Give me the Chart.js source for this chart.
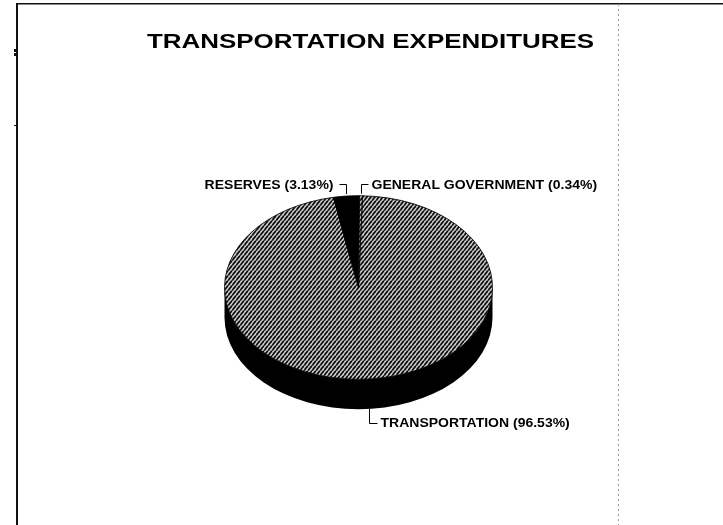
<!DOCTYPE html>
<html>
<head>
<meta charset="utf-8">
<script src="https://cdn.jsdelivr.net/npm/chart.js@4.4.1/dist/chart.umd.min.js"></script>
<style>
  html, body { margin: 0; padding: 0; background: #fff; }
  #wrap { width: 723px; height: 525px; position: relative; }
</style>
</head>
<body>
<div id="wrap"><canvas id="pie" width="723" height="525"></canvas></div>
<script>
// chart data
const chartTitle = 'TRANSPORTATION EXPENDITURES';
const categories = ['TRANSPORTATION', 'RESERVES', 'GENERAL GOVERNMENT'];
const shares = [96.53, 3.13, 0.34];

// look of the 3d pie
const SQUASH = 0.685;   // ry / rx of the top face
const DEPTH = 30;       // side height in px
const LABEL_FONT = 'bold 12.5px "Liberation Sans", Arial, sans-serif';
const LABEL_SX = 1.12;

// diagonal hatch used on the top face
function makeHatch() {
  const w = 4, h = 5;
  const c = document.createElement('canvas');
  c.width = w; c.height = h;
  const g = c.getContext('2d');
  g.fillStyle = '#fff';
  g.fillRect(0, 0, w, h);
  g.strokeStyle = '#000';
  g.lineWidth = 2;
  for (const x0 of [-w, 0, w]) {
    g.beginPath();
    g.moveTo(x0, h);
    g.lineTo(x0 + w, 0);
    g.stroke();
  }
  const ctx = document.getElementById('pie').getContext('2d');
  const p = ctx.createPattern(c, 'repeat');
  // keep stripes unsquashed when the face is scaled
  p.setTransform(new DOMMatrix().scale(1, 1 / SQUASH));
  return p;
}
const hatch = makeHatch();

function scaledText(ctx, text, x, y, align, font, sx, baseline) {
  ctx.save();
  ctx.font = font;
  ctx.textAlign = align;
  ctx.textBaseline = baseline || 'middle';
  ctx.fillStyle = '#000';
  ctx.translate(x, y);
  ctx.scale(sx, 1);
  ctx.fillText(text, 0, 0);
  ctx.restore();
}

// page frame + title
const framePlugin = {
  id: 'frame',
  beforeDraw(chart) {
    const ctx = chart.ctx;
    ctx.save();
    ctx.fillStyle = '#fff';
    ctx.fillRect(0, 0, chart.width, chart.height);
    ctx.fillStyle = '#111';
    ctx.fillRect(16, 3, chart.width - 16, 1.5);
    ctx.fillRect(16, 3, 2, chart.height);
    ctx.fillRect(14, 49, 2, 3);
    ctx.fillRect(14, 53, 2, 3);
    ctx.fillRect(14, 125, 3, 1);
    ctx.strokeStyle = '#9a9a9a';
    ctx.lineWidth = 1;
    ctx.setLineDash([2, 3]);
    ctx.beginPath();
    ctx.moveTo(618.5, 4);
    ctx.lineTo(618.5, chart.height);
    ctx.stroke();
    ctx.restore();

    // title stretched to the reference width
    ctx.save();
    const tf = 'bold 21px "Liberation Sans", Arial, sans-serif';
    ctx.font = tf;
    const sx = 447 / ctx.measureText(chartTitle).width;
    ctx.restore();
    scaledText(ctx, chartTitle, 147, 48, 'left', tf, sx, 'alphabetic');
  }
};

// side of the pie and squash of the top face
const pie3d = {
  id: 'pie3d',
  beforeDatasetsDraw(chart) {
    const ctx = chart.ctx;
    const arcs = chart.getDatasetMeta(0).data;
    const a0 = arcs[0];
    const cx = a0.x, cy = a0.y, r = a0.outerRadius, ry = r * SQUASH;
    ctx.save();
    ctx.fillStyle = '#000';
    arcs.forEach(arc => {
      // front half only (0..PI), with wrap
      for (const shift of [0, 2 * Math.PI, -2 * Math.PI]) {
        const s = Math.max(arc.startAngle + shift, 0);
        const e = Math.min(arc.endAngle + shift, Math.PI);
        if (e <= s) continue;
        ctx.beginPath();
        ctx.ellipse(cx, cy, r, ry, 0, s, e);
        ctx.ellipse(cx, cy + DEPTH, r, ry, 0, e, s, true);
        ctx.closePath();
        ctx.fill();
      }
    });
    ctx.restore();
    ctx.save();
    ctx.translate(cx, cy);
    ctx.scale(1, SQUASH);
    ctx.translate(-cx, -cy);
  },
  afterDatasetsDraw(chart) {
    chart.ctx.restore();
  },
  afterDraw(chart) {
    const ctx = chart.ctx;
    const arcs = chart.getDatasetMeta(0).data;
    ctx.save();
    ctx.strokeStyle = '#000';
    ctx.lineWidth = 1;
    arcs.forEach((arc, i) => {
      const mid = (arc.startAngle + arc.endAngle) / 2;
      const ax = Math.round(arc.x + arc.outerRadius * Math.cos(mid)) + 0.5;
      const ay = arc.y + arc.outerRadius * SQUASH * Math.sin(mid);
      const text = categories[i] + ' (' + shares[i].toFixed(2) + '%)';
      const front = Math.sin(mid) > 0;
      const left = Math.cos(mid) < 0 && !front;
      ctx.beginPath();
      if (front) {
        const y0 = ay + DEPTH, y1 = Math.round(y0 + 14) + 0.5;
        ctx.moveTo(ax, y0);
        ctx.lineTo(ax, y1);
        ctx.lineTo(ax + 8, y1);
        ctx.stroke();
        scaledText(ctx, text, ax + 11, y1 + 0.5, 'left', LABEL_FONT, LABEL_SX);
      } else {
        const y0 = ay - 2, y1 = Math.round(y0 - 10) + 0.5;
        const dx = left ? -7 : 7;
        ctx.moveTo(ax, y0);
        ctx.lineTo(ax, y1);
        ctx.lineTo(ax + dx, y1);
        ctx.stroke();
        scaledText(ctx, text, ax + dx + (left ? -6 : 3), y1 + 1.5,
          left ? 'right' : 'left', LABEL_FONT, LABEL_SX);
      }
    });
    ctx.restore();
  }
};

new Chart(document.getElementById('pie'), {
  type: 'pie',
  data: {
    labels: categories,
    datasets: [{
      data: shares,
      backgroundColor: [hatch, '#000', hatch],
      borderColor: '#000',
      borderWidth: 1
    }]
  },
  options: {
    responsive: false,
    animation: false,
    rotation: 1.7,
    layout: { padding: { left: 224, right: 230, top: 153, bottom: 103 } },
    plugins: {
      legend: { display: false },
      tooltip: { enabled: false },
      title: { display: false }
    }
  },
  plugins: [framePlugin, pie3d]
});
</script>
</body>
</html>
